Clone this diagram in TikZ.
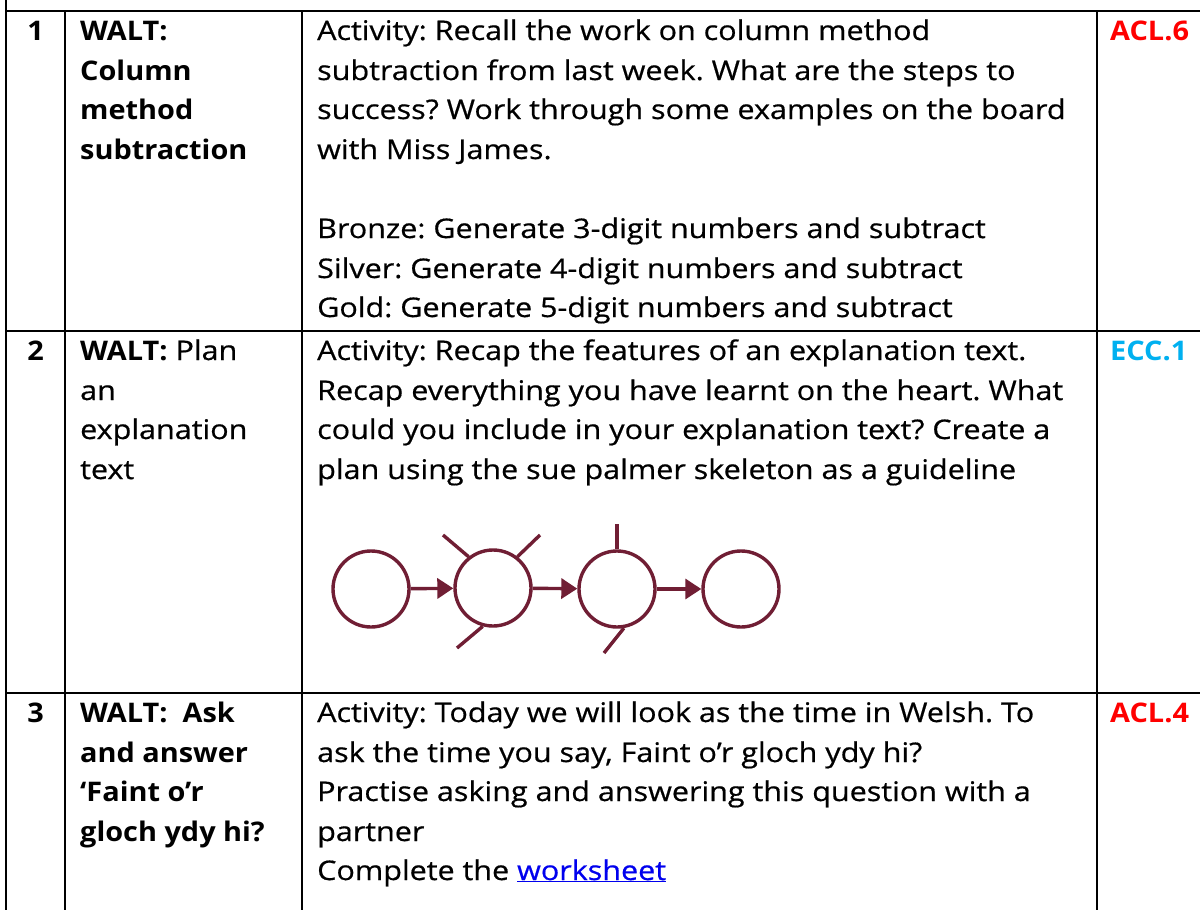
\documentclass[tikz,border=0pt]{standalone}
\usepackage{fontspec}
\setmainfont{Open Sans}[UprightFeatures={FakeStretch=1.13,FakeBold=0.6},BoldFeatures={FakeStretch=1.07}]
\usetikzlibrary{arrows.meta}
\definecolor{skel}{RGB}{112,30,52}
\definecolor{aclred}{RGB}{255,0,0}
\definecolor{eccblue}{RGB}{0,176,240}
\definecolor{linkblue}{RGB}{0,0,238}
\frenchspacing
\begin{document}
\begin{tikzpicture}[x=1pt,y=-1pt,
  grid/.style={line width=2.5pt, black},
  txt/.style={anchor=base west, inner sep=0pt, font=\fontsize{27}{32}\selectfont},
  btxt/.style={txt, font=\fontsize{27}{32}\selectfont\bfseries},
  num/.style={anchor=base, inner sep=0pt, font=\fontsize{27}{32}\selectfont\bfseries},
  ring/.style={circle, draw=skel, line width=3.4pt, minimum size=76pt, inner sep=0pt},
  link/.style={draw=skel, line width=3.4pt, -{Triangle[length=16pt,width=20pt]}},
  spoke/.style={draw=skel, line width=3.4pt}
]
\useasboundingbox (0,0) rectangle (1200,910);
\fill[white] (0,0) rectangle (1200,910);
% grid
\coordinate (lt) at (6,0);
\coordinate (lb) at (6,910);
\coordinate (r1l) at (6,11);   \coordinate (r1r) at (1200,11);
\coordinate (r2l) at (6,331);  \coordinate (r2r) at (1200,331);
\coordinate (r3l) at (6,693);  \coordinate (r3r) at (1200,693);
\coordinate (c1t) at (65,11);   \coordinate (c1b) at (65,910);
\coordinate (c2t) at (302,11);  \coordinate (c2b) at (302,910);
\coordinate (c3t) at (1097,11); \coordinate (c3b) at (1097,910);
\draw[grid] (lt) -- (lb);
\draw[grid] (r1l) -- (r1r);
\draw[grid] (r2l) -- (r2r);
\draw[grid] (r3l) -- (r3r);
\draw[grid] (c1t) -- (c1b);
\draw[grid] (c2t) -- (c2b);
\draw[grid] (c3t) -- (c3b);
% row numbers
\node[num] (n1) at (35.5,40) {1};
\node[num] (n2) at (35.5,360) {2};
\node[num] (n3) at (35.5,722) {3};
% column 2
\node[btxt] (w1a) at (80,40) {WALT:};
\node[btxt] (w1b) at (80,80) {Column};
\node[btxt] (w1c) at (80,119) {method};
\node[btxt] (w1d) at (80,159) {subtraction};
\node[txt] (w2a) at (80,360) {\textbf{WALT:} Plan};
\node[txt] (w2b) at (80,400) {an};
\node[txt] (w2c) at (80,439) {explanation};
\node[txt] (w2d) at (80,479) {text};
\node[btxt] (w3a) at (80,722) {WALT:\ \ Ask};
\node[btxt] (w3b) at (80,762) {and answer};
\node[btxt] (w3c) at (80,801) {‘Faint o’r};
\node[btxt] (w3d) at (80,841) {gloch ydy hi?};
% column 3 row 1
\node[txt] (a1a) at (317,40) {Activity: Recall the work on column method};
\node[txt] (a1b) at (317,80) {subtraction from last week. What are the steps to};
\node[txt] (a1c) at (317,119) {success? Work through some examples on the board};
\node[txt] (a1d) at (317,159) {with Miss James.};
\node[txt] (a1e) at (317,238) {Bronze: Generate 3-digit numbers and subtract};
\node[txt] (a1f) at (317,278) {Silver: Generate 4-digit numbers and subtract};
\node[txt] (a1g) at (317,317) {Gold: Generate 5-digit numbers and subtract};
% column 3 row 2
\node[txt] (a2a) at (317,360) {Activity: Recap the features of an explanation text.};
\node[txt] (a2b) at (317,400) {Recap everything you have learnt on the heart. What};
\node[txt] (a2c) at (317,439) {could you include in your explanation text? Create a};
\node[txt] (a2d) at (317,479) {plan using the sue palmer skeleton as a guideline};
% column 3 row 3
\node[txt] (a3a) at (317,722) {Activity: Today we will look as the time in Welsh. To};
\node[txt] (a3b) at (317,762) {ask the time you say, Faint o’r gloch ydy hi?};
\node[txt] (a3c) at (317,801) {Practise asking and answering this question with a};
\node[txt] (a3d) at (317,841) {partner};
\node[txt] (a3e) at (317,880) {Complete the \textcolor{linkblue}{\underline{worksheet}}};
% column 4
\node[btxt, text=aclred] (k1) at (1110,40) {ACL.6};
\node[btxt, text=eccblue] (k2) at (1110,360) {ECC.1};
\node[btxt, text=aclred] (k3) at (1110,722) {ACL.4};
% skeleton
\node[ring] (s1) at (371,589) {};
\node[ring] (s2) at (493,588) {};
\node[ring] (s3) at (617,589) {};
\node[ring] (s4) at (741,589) {};
\draw[link] (s1) -- (s2);
\draw[link] (s2) -- (s3);
\draw[link] (s3) -- (s4);
\coordinate (p1) at (443,535);
\coordinate (p2) at (540,535);
\coordinate (p3) at (457,648);
\coordinate (p4) at (617,524);
\coordinate (p5) at (604,653);
\draw[spoke] (s2.128) -- (p1);
\draw[spoke] (s2.52) -- (p2);
\draw[spoke] (s2.255) -- (p3);
\draw[spoke] (s3.90) -- (p4);
\draw[spoke] (s3.280) -- (p5);
\end{tikzpicture}
\end{document}
